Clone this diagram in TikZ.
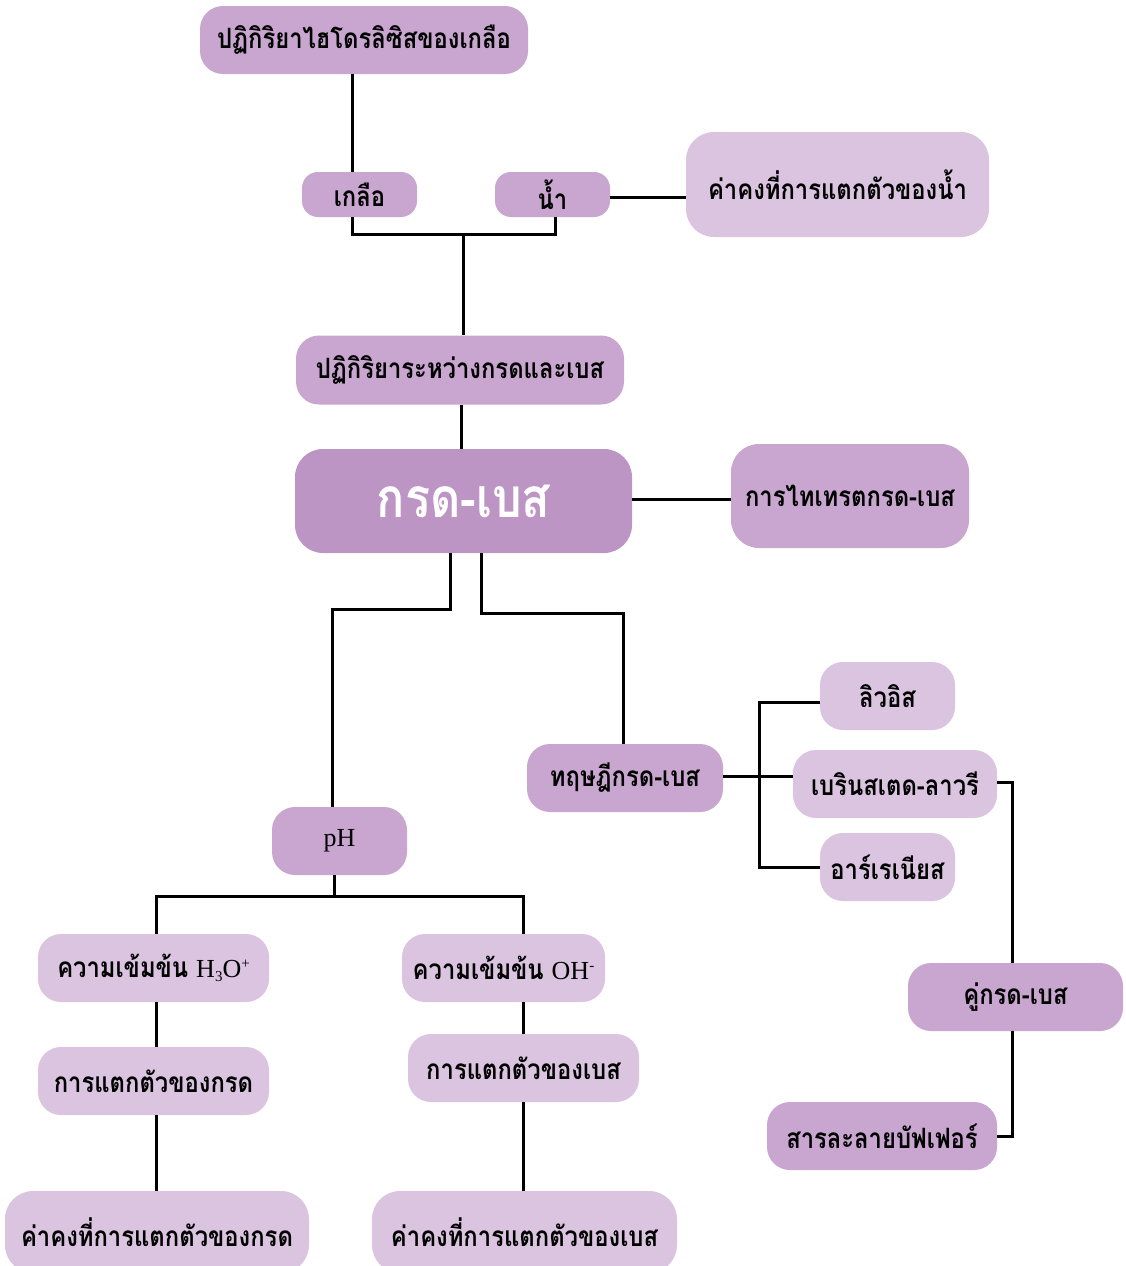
\documentclass[tikz,border=0pt]{standalone}
\usepackage{fontspec}
\setmainfont{Liberation Serif}
\newfontfamily\thai[Script=Thai, FakeStretch=0.85]{Loma}
\definecolor{dk}{HTML}{C9A6D0}
\definecolor{ctr}{HTML}{BC95C5}
\definecolor{lt}{HTML}{DAC4E0}
\begin{document}
\begin{tikzpicture}[x=1pt,y=-1pt,
  box/.style={rounded corners=23pt, inner sep=0pt, text=black,
    font=\thai\bfseries\fontsize{28}{32}\selectfont},
  dkbox/.style={box, fill=dk},
  ltbox/.style={box, fill=lt},
  ctrbox/.style={box, fill=ctr, rounded corners=28pt, text=white,
    font=\thai\bfseries\fontsize{55}{60}\selectfont},
  conn/.style={line width=3pt, black}]
\useasboundingbox (0,0) rectangle (1126,1266);
\clip (0,0) rectangle (1126,1266);
\fill[white] (0,0) rectangle (1126,1266);
% nodes
\node[dkbox, minimum width=328pt, minimum height=68pt] (hyd) at (364,40) {ปฏิกิริยาไฮโดรลิซิสของเกลือ};
\node[dkbox, rounded corners=16pt, minimum width=115pt, minimum height=45pt] (salt) at (359.5,194.5) {เกลือ};
\node[dkbox, rounded corners=16pt, minimum width=115pt, minimum height=45pt] (water) at (552.5,194.5) {น้ำ};
\node[ltbox, rounded corners=28pt, minimum width=303pt, minimum height=105pt] (kw) at (837.5,184.5) {ค่าคงที่การแตกตัวของน้ำ};
\node[dkbox, minimum width=328pt, minimum height=69pt] (neut) at (460,370) {ปฏิกิริยาระหว่างกรดและเบส};
\node[ctrbox, minimum width=337pt, minimum height=104pt] (ab) at (463.5,501) {กรด-เบส};
\node[dkbox, rounded corners=28pt, minimum width=238pt, minimum height=104pt] (titr) at (850,496) {การไทเทรตกรด-เบส};
\node[ltbox, minimum width=135pt, minimum height=68pt] (lewis) at (887.5,696) {ลิวอิส};
\node[ltbox, minimum width=204pt, minimum height=68pt] (bl) at (895,784) {เบรินสเตด-ลาวรี};
\node[ltbox, minimum width=135pt, minimum height=68pt] (arr) at (887.5,867) {อาร์เรเนียส};
\node[dkbox, minimum width=196pt, minimum height=68pt] (theory) at (625,778) {ทฤษฎีกรด-เบส};
\node[dkbox, minimum width=135pt, minimum height=68pt, font=\fontsize{26}{30}\selectfont] (ph) at (339.5,841) {pH};
\node[ltbox, minimum width=231pt, minimum height=68pt] (h3o) at (153.5,968) {ความเข้มข้น {\rmfamily\mdseries\fontsize{26}{30}\selectfont H\raisebox{-0.35ex}{\fontsize{15}{15}\selectfont 3}O\raisebox{0.75ex}{\fontsize{15}{15}\selectfont +}}};
\node[ltbox, minimum width=203pt, minimum height=68pt] (oh) at (503.5,968) {ความเข้มข้น {\rmfamily\mdseries\fontsize{26}{30}\selectfont OH\raisebox{0.75ex}{\fontsize{15}{15}\selectfont -}}};
\node[ltbox, minimum width=231pt, minimum height=68pt] (adiss) at (153.5,1081) {การแตกตัวของกรด};
\node[ltbox, minimum width=231pt, minimum height=68pt] (bdiss) at (523.5,1068) {การแตกตัวของเบส};
\node[ltbox, rounded corners=28pt, minimum width=304pt, minimum height=82pt] (ka) at (157,1232) {ค่าคงที่การแตกตัวของกรด};
\node[ltbox, rounded corners=28pt, minimum width=305pt, minimum height=82pt] (kb) at (524.5,1232) {ค่าคงที่การแตกตัวของเบส};
\node[dkbox, minimum width=215pt, minimum height=68pt] (pair) at (1015.5,997) {คู่กรด-เบส};
\node[dkbox, minimum width=230pt, minimum height=68pt] (buffer) at (882,1136) {สารละลายบัฟเฟอร์};
% connectors
\draw[conn] ([xshift=-12pt]hyd.south) -- ([xshift=-7.5pt]salt.north);
\draw[conn] ([xshift=-7.5pt]salt.south) -- ++(0,17) -| ([xshift=2.5pt]water.south);
\coordinate (j1) at (463,234);
\draw[conn] (j1) -- (j1 |- neut.north);
\draw[conn] ([yshift=-2.5pt]water.east) -- ([yshift=-2.5pt]water.east -| kw.west);
\draw[conn] ([xshift=1pt]neut.south) -- ([xshift=1pt]neut.south |- ab.north);
\draw[conn] ([yshift=2pt]ab.east) -- ([yshift=2pt]ab.east -| titr.west);
\draw[conn] ([xshift=-13.5pt]ab.south) -- ++(0,56) -| ([xshift=-7.5pt]ph.north);
\draw[conn] ([xshift=17.5pt]ab.south) -- ++(0,60) -| ([xshift=-2pt]theory.north);
\coordinate (tv) at (759,778);
\draw[conn] ([yshift=2pt]theory.east) -- ([yshift=2pt]theory.east -| bl.west);
\draw[conn] ([yshift=-6pt]lewis.west) -- ([yshift=-6pt]lewis.west -| tv) -- (arr.west -| tv) -- (arr.west);
\draw[conn] ([yshift=2pt]bl.east) -| ([xshift=-3.5pt]pair.north);
\draw[conn] ([xshift=-3.5pt]pair.south) |- (buffer.east);
\draw[conn] ([xshift=-5.5pt]ph.south) -- ++(0,22);
\draw[conn] ([xshift=2.5pt]h3o.north) -- ++(0,-37) -| ([xshift=19.5pt]oh.north);
\draw[conn] ([xshift=2.5pt]h3o.south) -- ([xshift=2.5pt]adiss.north);
\draw[conn] ([xshift=2.5pt]adiss.south) -- ([xshift=-1pt]ka.north);
\draw[conn] ([xshift=19.5pt]oh.south) -- ([xshift=-0.5pt]bdiss.north);
\draw[conn] ([xshift=-0.5pt]bdiss.south) -- ([xshift=-1.5pt]kb.north);
\end{tikzpicture}
\end{document}
